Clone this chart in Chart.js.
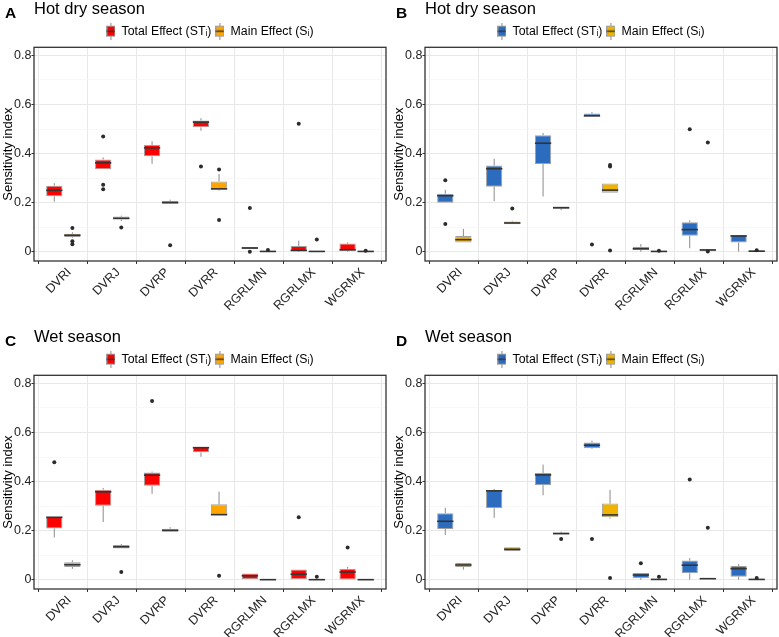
<!DOCTYPE html>
<html>
<head>
<meta charset="utf-8">
<script src="https://cdn.jsdelivr.net/npm/chart.js@4.4.0/dist/chart.umd.min.js"></script>
<style>
html, body { margin: 0; padding: 0; background: #fff; }
#wrap { position: relative; width: 779px; height: 637px; overflow: hidden; font-family: "Liberation Sans", Arial, sans-serif; }
.panel { position: absolute; width: 389px; height: 328px; }
.panel canvas { position: absolute; left: 0; top: 0; }
.tag { position: absolute; left: 5px; top: 15px; font-weight: bold; font-size: 15.5px; line-height: 15.5px; z-index: 2; color: #000; }
</style>
</head>
<body>
<div id="wrap">
  <div class="panel" style="left:0;top:-10px"><div class="tag">A</div><canvas id="cA" width="389" height="328"></canvas></div>
  <div class="panel" style="left:391px;top:-10px"><div class="tag">B</div><canvas id="cB" width="389" height="328"></canvas></div>
  <div class="panel" style="left:0;top:318px"><div class="tag">C</div><canvas id="cC" width="389" height="328"></canvas></div>
  <div class="panel" style="left:391px;top:318px"><div class="tag">D</div><canvas id="cD" width="389" height="328"></canvas></div>
</div>
<script>
// categories and tick labels
const categories = ['DVRI', 'DVRJ', 'DVRP', 'DVRR', 'RGRLMN', 'RGRLMX', 'WGRMX'];
const yTicks = [0, 0.1, 0.2, 0.3, 0.4, 0.5, 0.6, 0.7, 0.8];

// box stats per category: [lower whisker, Q1, median, Q3, upper whisker]
// A: hot dry season (red / orange)
const hotTotalA = [[0.204, 0.226, 0.250, 0.269, 0.279], [0.336, 0.336, 0.362, 0.376, 0.384], [0.358, 0.389, 0.423, 0.435, 0.450], [0.493, 0.507, 0.528, 0.535, 0.544], [0.011, 0.011, 0.015, 0.019, 0.019], [0, 0.003, 0.005, 0.023, 0.045], [0, 0.003, 0.008, 0.033, 0.038]];
const hotTotalOutA = [[], [0.469, 0.273, 0.254], [], [0.347], [0.178, 0], [0.521], []];
const hotMainA = [[0.057, 0.060, 0.067, 0.073, 0.079], [0.125, 0.131, 0.136, 0.143, 0.147], [0.195, 0.195, 0.200, 0.207, 0.212], [0.249, 0.253, 0.256, 0.286, 0.317], [0, 0, 0.001, 0.003, 0.003], [0, 0, 0.001, 0.002, 0.002], [0, 0, 0.001, 0.002, 0.002]];
const hotMainOutA = [[0.097, 0.042, 0.030], [0.099], [0.026], [0.335, 0.129], [0.007], [0.050], [0.004]];

// B: hot dry season (blue / gold)
const hotTotalB = [[0.199, 0.199, 0.228, 0.236, 0.252], [0.206, 0.265, 0.338, 0.351, 0.379], [0.225, 0.357, 0.442, 0.475, 0.484], [0.550, 0.550, 0.554, 0.563, 0.569], [0, 0.007, 0.012, 0.020, 0.031], [0.014, 0.065, 0.090, 0.120, 0.128], [0, 0.037, 0.064, 0.068, 0.068]];
const hotTotalOutB = [[0.291, 0.113], [], [], [0.029], [], [0.499], []];
const hotMainB = [[0.037, 0.037, 0.049, 0.064, 0.093], [0.112, 0.112, 0.117, 0.123, 0.126], [0.169, 0.175, 0.179, 0.184, 0.184], [0.240, 0.240, 0.251, 0.278, 0.278], [0, 0, 0.001, 0.002, 0.002], [0.004, 0.004, 0.007, 0.010, 0.010], [0, 0, 0.002, 0.005, 0.005]];
const hotMainOutB = [[], [0.176], [], [0.353, 0.347, 0.005], [0.004], [0.445, 0.001], [0.006]];

// C: wet season (red / orange)
const wetTotalC = [[0.172, 0.209, 0.254, 0.257, 0.257], [0.235, 0.301, 0.358, 0.367, 0.374], [0.350, 0.383, 0.426, 0.437, 0.441], [0.501, 0.519, 0.538, 0.541, 0.541], [0, 0, 0.016, 0.025, 0.025], [0, 0, 0.022, 0.041, 0.041], [0, 0.001, 0.031, 0.045, 0.052]];
const wetTotalOutC = [[0.479], [], [0.728], [], [], [0.254], [0.131]];
const wetMainC = [[0.044, 0.052, 0.061, 0.071, 0.079], [0.127, 0.127, 0.134, 0.141, 0.145], [0.195, 0.195, 0.201, 0.208, 0.214], [0.264, 0.264, 0.265, 0.307, 0.359], [0, 0, 0, 0.001, 0.001], [0, 0, 0, 0.001, 0.001], [0, 0, 0, 0.001, 0.001]];
const wetMainOutC = [[], [0.031], [], [0.016], [], [0.012], []];

// D: wet season (blue / gold)
const wetTotalD = [[0.182, 0.207, 0.238, 0.271, 0.293], [0.252, 0.291, 0.362, 0.366, 0.370], [0.344, 0.385, 0.427, 0.435, 0.469], [0.533, 0.536, 0.548, 0.559, 0.567], [0, 0.007, 0.019, 0.027, 0.027], [0, 0.026, 0.059, 0.078, 0.088], [0, 0.012, 0.045, 0.056, 0.064]];
const wetTotalOutD = [[], [], [], [0.166], [0.067], [0.408], []];
const wetMainD = [[0.041, 0.052, 0.060, 0.068, 0.068], [0.117, 0.117, 0.124, 0.132, 0.132], [0.184, 0.184, 0.188, 0.192, 0.196], [0.249, 0.254, 0.264, 0.310, 0.366], [0, 0, 0.001, 0.004, 0.004], [0.003, 0.003, 0.004, 0.005, 0.005], [0, 0, 0.001, 0.002, 0.002]];
const wetMainOutD = [[], [], [0.166], [0.007], [0.012], [0.212], [0.007]];

Chart.defaults.font.family = '"Liberation Sans", Arial, sans-serif';
Chart.defaults.color = '#222';

// little boxplot glyph for the legend
function keyGlyph(color) {
  const c = document.createElement('canvas');
  c.width = 9; c.height = 17;
  const g = c.getContext('2d');
  g.strokeStyle = '#8a8a8a'; g.lineWidth = 1;
  g.beginPath(); g.moveTo(4.5, 0); g.lineTo(4.5, 17); g.stroke();
  g.fillStyle = color;
  g.fillRect(0.5, 3.5, 8, 10);
  g.strokeStyle = '#a0a0a0';
  g.strokeRect(0.5, 3.5, 8, 10);
  g.strokeStyle = '#333'; g.lineWidth = 1.5;
  g.beginPath(); g.moveTo(0.5, 8.5); g.lineTo(8.5, 8.5); g.stroke();
  return c;
}

// whiskers, medians, outliers and the panel border
const boxExtras = {
  id: 'boxExtras',
  afterDatasetsDraw(chart) {
    const ctx = chart.ctx, y = chart.scales.y;
    ctx.save();
    chart.data.datasets.forEach((ds, di) => {
      chart.getDatasetMeta(di).data.forEach((bar, i) => {
        const s = ds.stats[i], x = bar.x, w = bar.width;
        ctx.strokeStyle = '#8a8a8a'; ctx.lineWidth = 1;
        ctx.beginPath();
        ctx.moveTo(x, y.getPixelForValue(s[0])); ctx.lineTo(x, y.getPixelForValue(s[1]));
        ctx.moveTo(x, y.getPixelForValue(s[3])); ctx.lineTo(x, y.getPixelForValue(s[4]));
        ctx.stroke();
        const ym = y.getPixelForValue(s[2]);
        ctx.strokeStyle = '#333'; ctx.lineWidth = 1.6;
        ctx.beginPath(); ctx.moveTo(x - w / 2, ym); ctx.lineTo(x + w / 2, ym); ctx.stroke();
        ctx.fillStyle = '#2b2b2b';
        ds.outliers[i].forEach(v => {
          ctx.beginPath(); ctx.arc(x, y.getPixelForValue(v), 2, 0, Math.PI * 2); ctx.fill();
        });
      });
    });
    const a = chart.chartArea;
    ctx.strokeStyle = '#333'; ctx.lineWidth = 1.3;
    ctx.strokeRect(a.left, a.top, a.right - a.left, a.bottom - a.top);
    ctx.restore();
  }
};

function isMinor(v) { return Math.round(v * 10) % 2 === 1; }

function makePanel(id, title, total, totalOut, main, mainOut, cTotal, cMain) {
  const mk = (label, stats, outs, color) => ({
    label: label,
    data: stats.map((s, i) => ({ x: i, y: [s[1], s[3]] })),
    stats: stats,
    outliers: outs,
    backgroundColor: color,
    borderColor: '#a0a0a0',
    borderWidth: 1,
    borderSkipped: false,
    categoryPercentage: 0.74,
    barPercentage: 0.9,
    keyGlyph: keyGlyph(color)
  });
  new Chart(document.getElementById(id), {
    type: 'bar',
    data: {
      datasets: [
        mk('Total Effect (STᵢ)', total, totalOut, cTotal),
        mk('Main Effect (Sᵢ)', main, mainOut, cMain)
      ]
    },
    plugins: [boxExtras],
    options: {
      responsive: false,
      animation: false,
      devicePixelRatio: 1,
      layout: { padding: { left: 0, right: 3, top: 0, bottom: 0 } },
      plugins: {
        tooltip: { enabled: false },
        title: {
          display: true, text: title, align: 'start', fullSize: false, color: '#000',
          font: { size: 16.5, weight: 'normal' },
          padding: { top: 9.5, bottom: 1.7 }
        },
        legend: {
          display: true, position: 'top', fullSize: false,
          labels: {
            usePointStyle: true, pointStyleWidth: 9, padding: 4, color: '#000',
            font: { size: 12.3 },
            generateLabels: chart => chart.data.datasets.map((ds, i) => ({
              text: ds.label, pointStyle: ds.keyGlyph, datasetIndex: i,
              fillStyle: ds.backgroundColor, strokeStyle: 'rgba(0,0,0,0)', lineWidth: 0, hidden: false
            }))
          },
          onClick: () => {}
        }
      },
      scales: {
        x: {
          type: 'linear', min: -0.6, max: 6.6, offset: false,
          afterBuildTicks: s => { s.ticks = categories.map((c, i) => ({ value: i })); },
          afterFit: s => { s.height = 57; },
          border: { display: false },
          grid: { color: '#e8e8e8', lineWidth: 1, drawTicks: true, tickLength: 3, tickColor: '#333' },
          ticks: {
            autoSkip: false, minRotation: 45, maxRotation: 45, padding: 1, labelOffset: 6,
            font: { size: 12.5 }, color: '#222',
            callback: v => categories[v]
          }
        },
        y: {
          type: 'linear', min: -0.038, max: 0.833,
          afterBuildTicks: s => { s.ticks = yTicks.map(v => ({ value: v })); },
          afterFit: s => { s.width = 34; },
          border: { display: false },
          title: { display: true, text: 'Sensitivity index', color: '#000', font: { size: 13 }, padding: { top: 0.5, bottom: 0 } },
          grid: {
            color: c => isMinor(c.tick.value) ? '#f3f3f3' : '#e8e8e8',
            lineWidth: c => isMinor(c.tick.value) ? 0.6 : 1,
            drawTicks: true, tickLength: 2.5,
            tickColor: c => isMinor(c.tick.value) ? 'rgba(0,0,0,0)' : '#333'
          },
          ticks: {
            padding: 0, font: { size: 12.5 }, color: '#222',
            callback: v => isMinor(v) ? '' : (v === 0 ? '0' : v.toFixed(1))
          }
        }
      }
    }
  });
}

makePanel('cA', 'Hot dry season', hotTotalA, hotTotalOutA, hotMainA, hotMainOutA, '#ff0000', '#ffa500');
makePanel('cB', 'Hot dry season', hotTotalB, hotTotalOutB, hotMainB, hotMainOutB, '#2b6cbf', '#f0b400');
makePanel('cC', 'Wet season', wetTotalC, wetTotalOutC, wetMainC, wetMainOutC, '#ff0000', '#ffa500');
makePanel('cD', 'Wet season', wetTotalD, wetTotalOutD, wetMainD, wetMainOutD, '#2b6cbf', '#f0b400');
</script>
</body>
</html>
